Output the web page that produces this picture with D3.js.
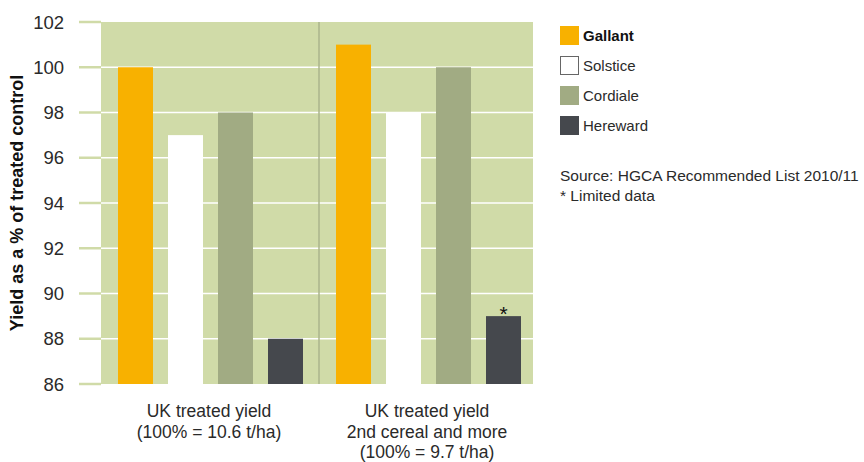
<!DOCTYPE html>
<html>
<head>
<meta charset="utf-8">
<script src="https://cdn.jsdelivr.net/npm/d3@7"></script>
<style>
  body { margin: 0; background: #fff; }
  svg { display: block; font-family: "Liberation Sans", Arial, sans-serif; }
</style>
</head>
<body>
<div id="chart"></div>
<script>
// data
var groups = ["g1", "g2"];
var groupLabels = [
  ["UK treated yield", "(100% = 10.6 t/ha)"],
  ["UK treated yield", "2nd cereal and more", "(100% = 9.7 t/ha)"]
];
var varieties = ["Gallant", "Solstice", "Cordiale", "Hereward"];
var gallant = [100, 101];
var solstice = [97, 98];
var cordiale = [98, 100];
var hereward = [88, 89];
var yTicks = [86, 88, 90, 92, 94, 96, 98, 100, 102];
var limited = [false, true]; // "*" marker on Hereward
var colors = ["#f8b100", "#ffffff", "#a1ab83", "#45484d"];

var series = [gallant, solstice, cordiale, hereward];

var W = 864, H = 462;
var plot = { left: 101, right: 533, top: 22, bottom: 384 };

var svg = d3.select("#chart").append("svg")
  .attr("width", W)
  .attr("height", H);

var y = d3.scaleLinear().domain([86, 102]).range([plot.bottom, plot.top]);
// second group is clipped a little on the right by the plot edge
var x0 = d3.scaleBand().domain(groups).range([plot.left, plot.left + 436]);
var x1 = d3.scaleBand().domain(varieties).range([17, 202]).paddingInner(0.3);

// background
svg.append("rect")
  .attr("x", plot.left).attr("y", plot.top)
  .attr("width", plot.right - plot.left).attr("height", plot.bottom - plot.top)
  .attr("fill", "#d0dba8");

// tick stubs left of plot
svg.selectAll("line.stub")
  .data(yTicks)
  .enter().append("line")
  .attr("class", "stub")
  .attr("x1", 79).attr("x2", plot.left)
  .attr("y1", function(d) { return y(d); })
  .attr("y2", function(d) { return y(d); })
  .attr("stroke", "#d0dba8")
  .attr("stroke-width", 2.5);

// white gridlines
svg.selectAll("line.grid")
  .data(yTicks.filter(function(d) { return d > 86 && d < 102; }))
  .enter().append("line")
  .attr("class", "grid")
  .attr("x1", plot.left).attr("x2", plot.right)
  .attr("y1", function(d) { return y(d); })
  .attr("y2", function(d) { return y(d); })
  .attr("stroke", "#fff")
  .attr("stroke-width", 1.6);

// divider between groups
svg.append("line")
  .attr("x1", x0("g2")).attr("x2", x0("g2"))
  .attr("y1", plot.top).attr("y2", plot.bottom)
  .attr("stroke", "#abb58d")
  .attr("stroke-width", 1.5);

// tick labels
svg.selectAll("text.tick")
  .data(yTicks)
  .enter().append("text")
  .attr("class", "tick")
  .attr("x", 64)
  .attr("y", function(d) { return y(d); })
  .attr("dy", "0.36em")
  .attr("text-anchor", "end")
  .attr("font-size", 18.5)
  .attr("fill", "#2a2a2a")
  .text(function(d) { return d; });

// bars
var g = svg.selectAll("g.group")
  .data(groups)
  .enter().append("g")
  .attr("class", "group")
  .attr("transform", function(d) { return "translate(" + x0(d) + ",0)"; });

g.selectAll("rect")
  .data(function(d, gi) {
    return varieties.map(function(v, i) { return { v: v, i: i, val: series[i][gi] }; });
  })
  .enter().append("rect")
  .attr("x", function(d) { return x1(d.v); })
  .attr("width", x1.bandwidth())
  .attr("y", function(d) { return y(d.val); })
  .attr("height", function(d) { return plot.bottom - y(d.val); })
  .attr("fill", function(d) { return colors[d.i]; });

// asterisk for limited data
g.each(function(d, gi) {
  if (!limited[gi]) return;
  d3.select(this).append("text")
    .attr("x", x1("Hereward") + x1.bandwidth() / 2)
    .attr("y", y(hereward[gi]) + 5)
    .attr("text-anchor", "middle")
    .attr("font-size", 21)
    .attr("fill", "#111")
    .text("*");
});

// category labels
g.append("text")
  .attr("text-anchor", "middle")
  .attr("font-size", 17.5)
  .attr("fill", "#2a2a2a")
  .selectAll("tspan")
  .data(function(d, gi) { return groupLabels[gi]; })
  .enter().append("tspan")
  .attr("x", 108)
  .attr("y", function(d, i) { return 417 + i * 20.5; })
  .text(function(d) { return d; });

// y axis title
svg.append("text")
  .attr("transform", "translate(23," + ((plot.top + plot.bottom) / 2) + ") rotate(-90)")
  .attr("text-anchor", "middle")
  .attr("font-size", 18)
  .attr("font-weight", "bold")
  .attr("fill", "#111")
  .text("Yield as a % of treated control");

// legend
var leg = svg.selectAll("g.leg")
  .data(varieties)
  .enter().append("g")
  .attr("class", "leg")
  .attr("transform", function(d, i) { return "translate(560," + (26 + i * 30) + ")"; });

leg.append("rect")
  .attr("x", function(d, i) { return i == 1 ? 0.5 : 0; })
  .attr("y", function(d, i) { return i == 1 ? 0.5 : 0; })
  .attr("width", function(d, i) { return i == 1 ? 18 : 19; })
  .attr("height", function(d, i) { return i == 1 ? 18 : 19; })
  .attr("fill", function(d, i) { return colors[i]; })
  .attr("stroke", function(d, i) { return i == 1 ? "#666" : "none"; });

leg.append("text")
  .attr("x", 23)
  .attr("y", 15)
  .attr("font-size", 15)
  .attr("font-weight", function(d, i) { return i == 0 ? "bold" : "normal"; })
  .attr("fill", function(d, i) { return i == 0 ? "#111" : "#2a2a2a"; })
  .text(function(d) { return d; });

svg.append("text")
  .attr("x", 560).attr("y", 181)
  .attr("font-size", 15.5)
  .attr("fill", "#2a2a2a")
  .text("Source: HGCA Recommended List 2010/11");

svg.append("text")
  .attr("x", 560).attr("y", 201)
  .attr("font-size", 15.5)
  .attr("fill", "#2a2a2a")
  .text("* Limited data");
</script>
</body>
</html>
